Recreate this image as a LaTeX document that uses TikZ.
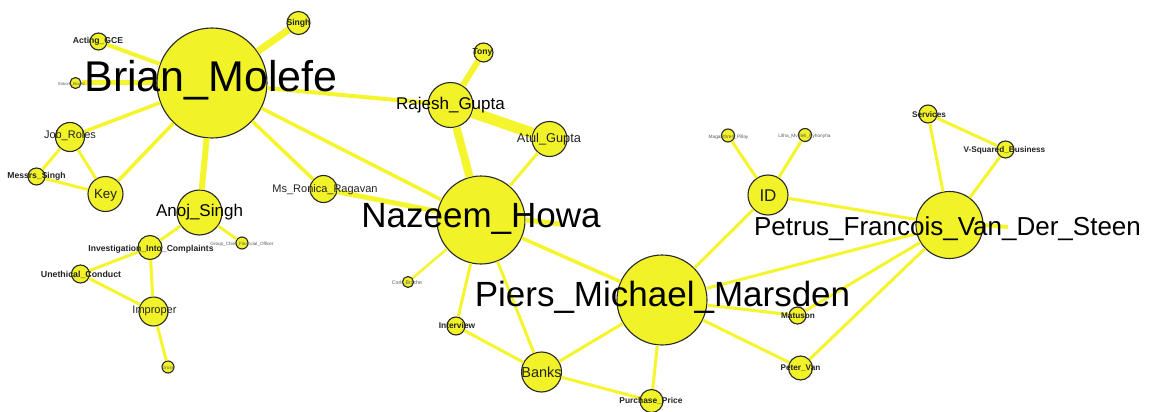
\documentclass[tikz,border=0pt]{standalone}
\usepackage{fontspec}
\setmainfont{Liberation Sans}
\newcommand\myfs[1]{\fontsize{#1}{#1}\selectfont}
\definecolor{nodefill}{RGB}{242,242,40}
\definecolor{edgecol}{RGB}{245,245,45}
\definecolor{bordercol}{RGB}{40,40,40}
\definecolor{smalltext}{RGB}{35,35,35}
\definecolor{tinytext}{RGB}{90,90,90}
\tikzset{
  nd/.style={circle, draw=bordercol, fill=nodefill, line width=1.1pt, inner sep=0pt, minimum size=#1},
  ed/.style={draw=edgecol, line width=#1},
  lb/.style={anchor=base, inner sep=0pt, text=black},
  lbs/.style={anchor=base, inner sep=0pt, text=smalltext, font=\bfseries\myfs{#1}},
  lbt/.style={anchor=base, inner sep=0pt, text=tinytext, font=\myfs{#1}},
}
\begin{document}
\begin{tikzpicture}[x=1pt,y=-1pt]
\useasboundingbox[fill=white] (0,0) rectangle (1152,412);
% circles
\node[nd=110] (brian) at (212,83) {};
\node[nd=23] (singh) at (298.5,23) {};
\node[nd=17] (acting) at (98.5,41.5) {};
\node[nd=11] (eskom) at (75.5,83) {};
\node[nd=29] (jobroles) at (70,137) {};
\node[nd=17] (messrs) at (36.5,176.5) {};
\node[nd=35] (key) at (105.5,194) {};
\node[nd=45] (anoj) at (199.5,212.5) {};
\node[nd=24] (invest) at (150,247.5) {};
\node[nd=12] (gcfo) at (242,243) {};
\node[nd=18] (uneth) at (80.5,274) {};
\node[nd=29] (improper) at (153.5,311.5) {};
\node[nd=12] (gross) at (168,367) {};
\node[nd=27] (ronica) at (323.5,189) {};
\node[nd=88] (nazeem) at (481,220) {};
\node[nd=45] (rajesh) at (450.5,105) {};
\node[nd=19] (tony) at (483.5,52.5) {};
\node[nd=35] (atul) at (549.5,139) {};
\node[nd=11] (corli) at (408,282) {};
\node[nd=18] (interview) at (456,326) {};
\node[nd=40] (banks) at (541.5,372) {};
\node[nd=23] (purchase) at (651.5,401) {};
\node[nd=90] (piers) at (662,300) {};
\node[nd=17] (matuson) at (797.5,315.5) {};
\node[nd=24] (petervan) at (800.5,368) {};
\node[nd=40] (id) at (768,195) {};
\node[nd=13] (magan) at (728,135.5) {};
\node[nd=13] (litha) at (805,135) {};
\node[nd=67] (petrus) at (949.5,225) {};
\node[nd=18] (services) at (928,114) {};
\node[nd=17] (vsq) at (1005.5,149.5) {};
\coordinate (nazstub) at (560,224);
\coordinate (petstub) at (1008,227);
% edges
\draw[ed=7] (brian) -- (singh);
\draw[ed=4] (brian) -- (acting);
\draw[ed=5] (brian) -- (eskom);
\draw[ed=3.5] (brian) -- (jobroles);
\draw[ed=3.5] (brian) -- (key);
\draw[ed=6] (brian) -- (anoj);
\draw[ed=3.5] (brian) -- (ronica);
\draw[ed=3.5] (brian) -- (nazeem);
\draw[ed=4] (brian) -- (rajesh);
\draw[ed=3] (jobroles) -- (messrs);
\draw[ed=3] (jobroles) -- (key);
\draw[ed=3] (messrs) -- (key);
\draw[ed=3] (anoj) -- (invest);
\draw[ed=3] (anoj) -- (gcfo);
\draw[ed=3] (invest) -- (uneth);
\draw[ed=3] (invest) -- (improper);
\draw[ed=3] (uneth) -- (improper);
\draw[ed=3] (improper) -- (gross);
\draw[ed=5] (ronica) -- (nazeem);
\draw[ed=6] (rajesh) -- (tony);
\draw[ed=11] (rajesh) -- (atul);
\draw[ed=8] (rajesh) -- (nazeem);
\draw[ed=3] (atul) -- (nazeem);
\draw[ed=2.5] (nazeem) -- (corli);
\draw[ed=3] (nazeem) -- (interview);
\draw[ed=3] (nazeem) -- (banks);
\draw[ed=3.5] (nazeem) -- (piers);
\draw[ed=5] (nazeem.east) -- (nazstub);
\draw[ed=3] (interview) -- (banks);
\draw[ed=3] (banks) -- (purchase);
\draw[ed=3] (banks) -- (piers);
\draw[ed=3] (piers) -- (purchase);
\draw[ed=3] (piers) -- (id);
\draw[ed=3] (piers) -- (petrus);
\draw[ed=3] (piers) -- (matuson);
\draw[ed=3] (piers) -- (petervan);
\draw[ed=3] (petrus) -- (matuson);
\draw[ed=3] (petrus) -- (petervan);
\draw[ed=3] (id) -- (petrus);
\draw[ed=3] (id) -- (magan);
\draw[ed=3] (id) -- (litha);
\draw[ed=3] (petrus) -- (services);
\draw[ed=3] (petrus) -- (vsq);
\draw[ed=3] (services) -- (vsq);
\draw[ed=4] (petrus.east) -- (petstub);
% labels
\node[lb, font=\myfs{43}] (l-brian) at (211,92) {Brian\_Molefe};
\node[lb, font=\myfs{35}] (l-nazeem) at (481,227) {Nazeem\_Howa};
\node[lb, font=\myfs{35}] (l-piers) at (662.5,306) {Piers\_Michael\_Marsden};
\node[lb, font=\myfs{26}] (l-petrus) at (947.5,235) {Petrus\_Francois\_Van\_Der\_Steen};
\node[lb, font=\myfs{17}] (l-rajesh) at (450.5,110) {Rajesh\_Gupta};
\node[lb, font=\myfs{17}] (l-anoj) at (199.5,216) {Anoj\_Singh};
\node[lb, text=smalltext, font=\myfs{12.8}] (l-atul) at (549,142) {Atul\_Gupta};
\node[lb, text=smalltext, font=\myfs{11}] (l-job) at (70,138) {Job\_Roles};
\node[lb, text=smalltext, font=\myfs{13.3}] (l-key) at (105.5,198) {Key};
\node[lb, text=smalltext, font=\myfs{11}] (l-ronica) at (325,192) {Ms\_Ronica\_Ragavan};
\node[lb, text=smalltext, font=\myfs{11}] (l-improper) at (154.5,313) {Improper};
\node[lb, text=smalltext, font=\myfs{14.5}] (l-banks) at (541.5,377) {Banks};
\node[lb, text=smalltext, font=\myfs{17}] (l-id) at (768,201) {ID};
\node[lbs=8.6] (l-acting) at (98,44) {Acting\_GCE};
\node[lbs=8.6] (l-messrs) at (36.5,178) {Messrs\_Singh};
\node[lbs=8.6] (l-singh) at (298.5,25.5) {Singh};
\node[lbs=8.6] (l-invest) at (151,251) {Investigation\_Into\_Complaints};
\node[lbs=8.8] (l-uneth) at (81,277) {Unethical\_Conduct};
\node[lbs=8.6] (l-tony) at (482.5,55) {Tony};
\node[lbs=8.4] (l-interview) at (457,328.5) {Interview};
\node[lbs=8.4] (l-purchase) at (651,403.5) {Purchase\_Price};
\node[lbs=8.2] (l-matuson) at (798,318.5) {Matuson};
\node[lbs=8.2] (l-petervan) at (800.5,370) {Peter\_Van};
\node[lbs=8.2] (l-services) at (929,117.5) {Services};
\node[lbs=8.2] (l-vsq) at (1004.5,152.5) {V-Squared\_Business};
\node[lbt=4.6] (l-gcfo) at (242,245) {Group\_Chief\_Financial\_Officer};
\node[lbt=4.2] (l-eskom) at (71.5,85) {Eskom\_Board};
\node[lbt=5.2] (l-corli) at (407,284.5) {Corli\_Brache};
\node[lbt=4.6] (l-gross) at (168,369) {Gross};
\node[lbt=4.8] (l-magan) at (728.5,138) {Maganthren\_Pillay};
\node[lbt=4.8] (l-litha) at (804.5,137.5) {Litha\_Mveleli\_Nyhonyha};
\end{tikzpicture}
\end{document}
